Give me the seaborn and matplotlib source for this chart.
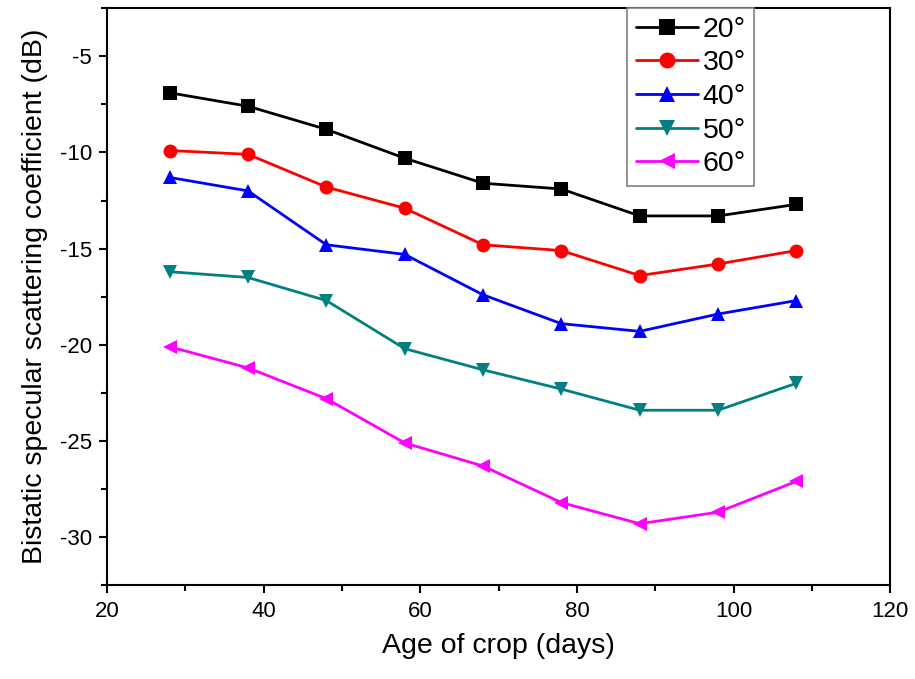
import pandas as pd
import matplotlib.pyplot as plt
import seaborn as sns
from matplotlib.ticker import MultipleLocator

# Values
days = [28, 38, 48, 58, 68, 78, 88, 98, 108]
angles = ['20°', '30°', '40°', '50°', '60°']
sigma_20 = [-6.9, -7.6, -8.8, -10.3, -11.6, -11.9, -13.3, -13.3, -12.7]
sigma_30 = [-9.9, -10.1, -11.8, -12.9, -14.8, -15.1, -16.4, -15.8, -15.1]
sigma_40 = [-11.3, -12.0, -14.8, -15.3, -17.4, -18.9, -19.3, -18.4, -17.7]
sigma_50 = [-16.2, -16.5, -17.7, -20.2, -21.3, -22.3, -23.4, -23.4, -22.0]
sigma_60 = [-20.1, -21.2, -22.8, -25.1, -26.3, -28.2, -29.3, -28.7, -27.1]

colors = ['black', 'red', 'blue', '#008080', 'magenta']
markers = ['s', 'o', '^', 'v', '<']

# Build a long-form table for seaborn
frames = []
for ang, vals in zip(angles, [sigma_20, sigma_30, sigma_40, sigma_50, sigma_60]):
    frames.append(pd.DataFrame({'days': days, 'sigma': vals, 'angle': ang}))
data = pd.concat(frames, ignore_index=True)

sns.set_style('ticks')
plt.rcParams['font.family'] = ['Liberation Sans', 'DejaVu Sans']
plt.rcParams['axes.unicode_minus'] = False
plt.rcParams['text.color'] = 'black'
plt.rcParams['axes.labelcolor'] = 'black'
plt.rcParams['xtick.color'] = 'black'
plt.rcParams['ytick.color'] = 'black'

fig = plt.figure(figsize=(9.15, 6.79), dpi=100)
ax = fig.add_axes([0.117, 0.138, 0.856, 0.850])

sns.lineplot(data=data, x='days', y='sigma', hue='angle', style='angle',
             palette=dict(zip(angles, colors)), markers=dict(zip(angles, markers)),
             dashes=False, markersize=10, linewidth=2, markeredgewidth=0, ax=ax)

ax.set_xlim(20, 120)
ax.set_ylim(-32.5, -2.5)
ax.xaxis.set_major_locator(MultipleLocator(20))
ax.xaxis.set_minor_locator(MultipleLocator(10))
ax.yaxis.set_major_locator(MultipleLocator(5))
ax.yaxis.set_minor_locator(MultipleLocator(2.5))
ax.tick_params(which='major', direction='out', length=6, width=1.5, labelsize=16, pad=5)
ax.tick_params(which='minor', direction='out', length=4, width=1.5)
for s in ax.spines.values():
    s.set_linewidth(1.5)
    s.set_color('black')

ax.set_xlabel('Age of crop (days)', fontsize=20.5, labelpad=8)
ax.set_ylabel('Bistatic specular scattering coefficient (dB)', fontsize=20.5, labelpad=8)

leg = ax.legend(loc='upper left', bbox_to_anchor=(0.664, 1.0), fontsize=20.5,
                frameon=True, fancybox=False, edgecolor='gray', framealpha=1,
                handlelength=2.2, handletextpad=0.15, labelspacing=0.27,
                borderaxespad=0, borderpad=0.3, markerscale=1.15)
leg.get_frame().set_linewidth(1.2)

fig.savefig('out.png', dpi=100)
